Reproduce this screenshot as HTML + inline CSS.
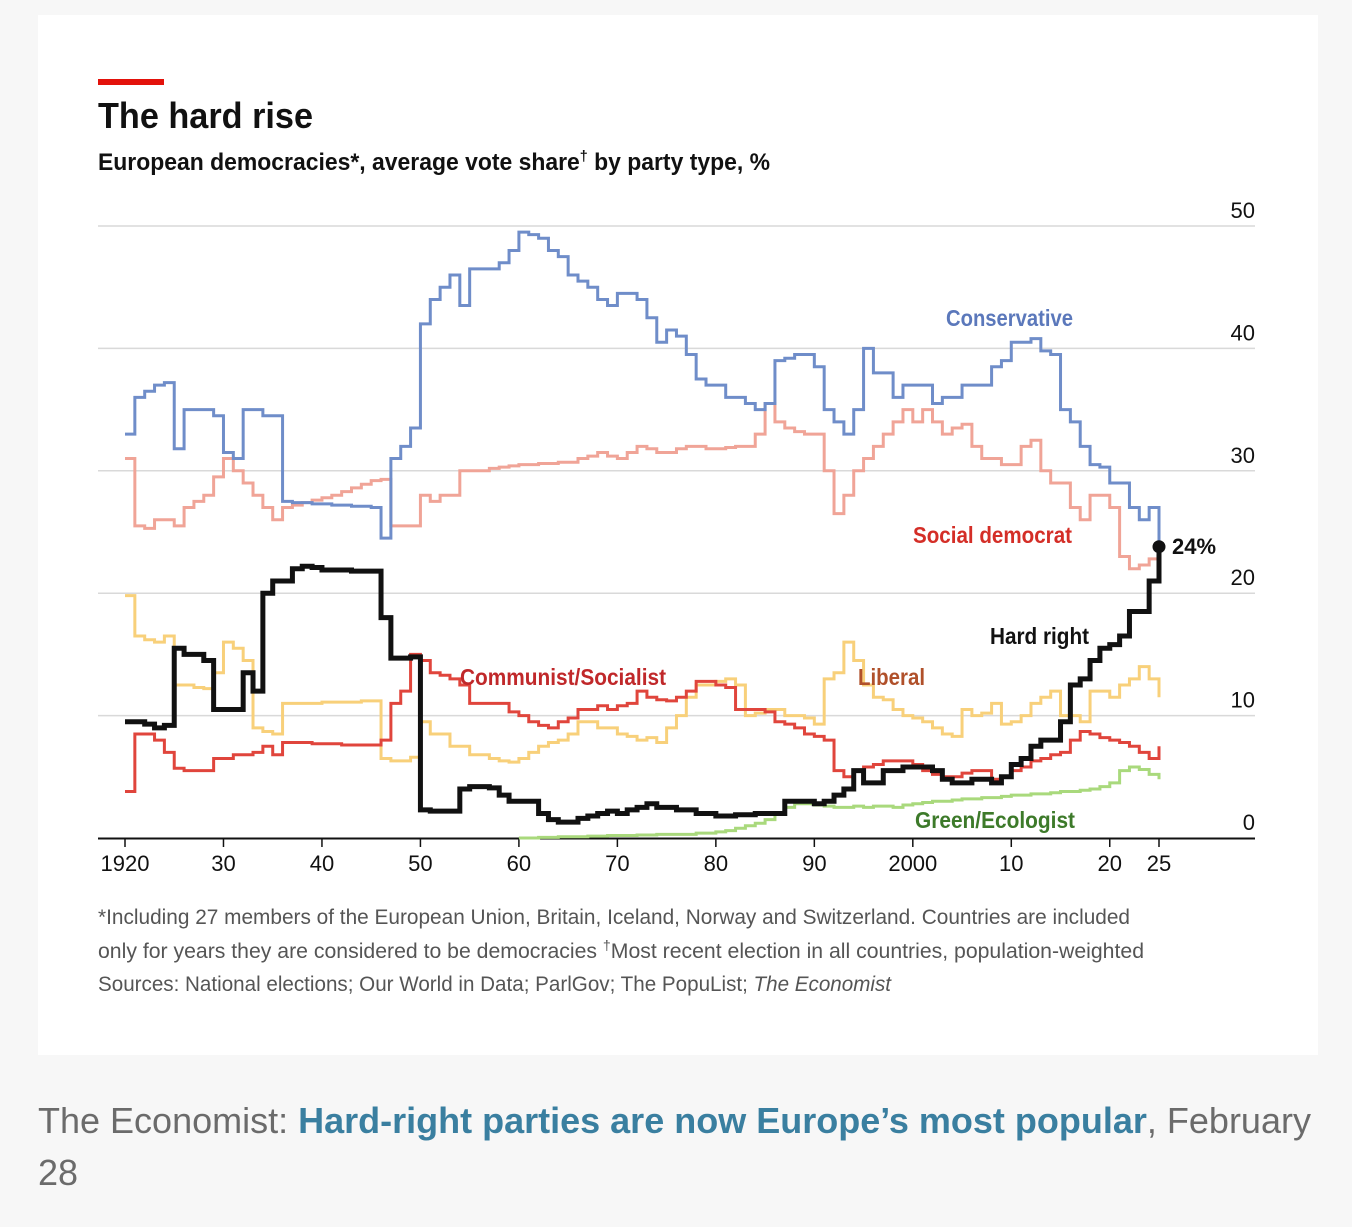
<!DOCTYPE html>
<html><head><meta charset="utf-8"><style>
html,body{margin:0;padding:0;background:#f7f7f7;}
body{width:1352px;height:1222px;overflow:hidden;font-family:"Liberation Sans",sans-serif;}
</style></head><body>
<svg id="chart" width="1352" height="1222" xmlns="http://www.w3.org/2000/svg" font-family="Liberation Sans, sans-serif">
<rect x="38" y="15" width="1280" height="1040" fill="#fff"/>
<rect x="98" y="79" width="66" height="6" fill="#e3120b"/>
<text x="98" y="128" font-size="36" font-weight="bold" textLength="215" lengthAdjust="spacingAndGlyphs" fill="#111">The hard rise</text>
<text x="98" y="170" font-size="24" font-weight="bold" textLength="672" lengthAdjust="spacingAndGlyphs" fill="#111">European democracies*, average vote share<tspan font-size="15" dy="-9">†</tspan><tspan dy="9"> by party type, %</tspan></text>
<g id="grid"></g>
<g id="series"></g>
<g id="labels">
<text x="946" y="326" font-size="23" font-weight="bold" fill="#5b78bb" textLength="127" lengthAdjust="spacingAndGlyphs">Conservative</text>
<text x="913" y="543" font-size="23" font-weight="bold" fill="#d42e27" textLength="159" lengthAdjust="spacingAndGlyphs">Social democrat</text>
<text x="460" y="685" font-size="23" font-weight="bold" fill="#c0282a" textLength="206" lengthAdjust="spacingAndGlyphs">Communist/Socialist</text>
<text x="858" y="685" font-size="23" font-weight="bold" fill="#b0502a" textLength="67" lengthAdjust="spacingAndGlyphs">Liberal</text>
<text x="990" y="644" font-size="23" font-weight="bold" fill="#111" textLength="99" lengthAdjust="spacingAndGlyphs">Hard right</text>
<text x="915" y="828" font-size="23" font-weight="bold" fill="#3d7a2a" textLength="160" lengthAdjust="spacingAndGlyphs">Green/Ecologist</text>
<text x="1172" y="554" font-size="22" font-weight="bold" fill="#111" textLength="44" lengthAdjust="spacingAndGlyphs">24%</text>
</g>
<g font-size="21" fill="#555">
<text x="98" y="924" textLength="1032" lengthAdjust="spacingAndGlyphs">*Including 27 members of the European Union, Britain, Iceland, Norway and Switzerland. Countries are included</text>
<text x="98" y="958" textLength="1046" lengthAdjust="spacingAndGlyphs">only for years they are considered to be democracies    <tspan font-size="14" dy="-8">†</tspan><tspan dy="8">Most recent election in all countries, population-weighted</tspan></text>
<text x="98" y="991" textLength="793" lengthAdjust="spacingAndGlyphs">Sources: National elections; Our World in Data; ParlGov; The PopuList; <tspan font-style="italic">The Economist</tspan></text>
</g>
<text x="38" y="1133" font-size="36" fill="#6b6b6b">The Economist: <tspan font-weight="bold" fill="#3a7fa0">Hard-right parties are now Europe’s most popular</tspan>, February</text>
<text x="38" y="1185" font-size="36" fill="#6b6b6b">28</text>
</svg>
<script>
const years = []; for (let y = 1920; y <= 2025; y++) years.push(y);
const conservative = [33,36,36.5,37,37.2,31.8,35,35,35,34.5,31.5,31,35,35,34.5,34.5,27.5,27.4,27.4,27.3,27.3,27.2,27.2,27.1,27.1,27,24.5,31,32,33.5,42,44,45,46,43.5,46.5,46.5,46.5,47,48,49.5,49.3,49,48,47.5,46,45.5,45,44,43.5,44.5,44.5,44,42.5,40.5,41.5,41,39.5,37.5,37,37,36,36,35.5,35,35.5,39,39.2,39.5,39.5,38.5,35,34,33,35,40,38,38,36,37,37,37,35.5,36,36,37,37,37,38.5,39,40.5,40.5,40.8,39.8,39.5,35,34,32,30.5,30.3,29,29,27,26,27,24];
const socialDemocrat = [31,25.5,25.3,26,26,25.5,27,27.5,28,29.5,31,30,29,28,27,26,27,27.2,27.4,27.6,27.8,28,28.3,28.6,28.9,29.2,29.3,25.5,25.5,25.5,28,27.5,28,28,30,30,30,30.2,30.3,30.4,30.5,30.5,30.6,30.6,30.7,30.7,31,31.2,31.5,31.2,31,31.5,32,31.8,31.5,31.5,31.8,32,32,31.8,31.8,31.9,32,32,33,35.5,34,33.5,33.2,33,33,30,26.5,28,30,31,32,33,34,35,34,35,34,33,33.5,33.8,32,31,31,30.5,30.5,32,32.5,30,29,29,27,26,28,28,27,23,22,22.3,22.8,23.5];
const hardRight = [9.5,9.5,9.3,9,9.2,15.5,15,15,14.5,10.5,10.5,10.5,13.5,12,20,21,21,22,22.2,22.1,21.9,21.9,21.9,21.8,21.8,21.8,18,14.7,14.7,14.8,2.3,2.2,2.2,2.2,4,4.2,4.2,4.1,3.5,3,3,3,2,1.5,1.3,1.3,1.6,1.8,2,2.2,2,2.3,2.5,2.8,2.5,2.5,2.3,2.3,2,2,1.8,1.8,1.9,1.9,2,2,2,3,3,3,2.8,3,3.5,4,5.5,4.5,4.5,5.5,5.5,5.8,5.8,5.8,5.5,4.8,4.5,4.5,4.8,4.8,4.5,5,6,6.5,7.5,8,8,9.5,12.5,13,14.5,15.5,15.8,16.5,18.5,18.5,21,23.8];
const communistSocialist = [3.8,8.5,8.5,8,7,5.7,5.5,5.5,5.5,6.5,6.5,6.8,6.8,7,7.5,6.8,7.8,7.8,7.8,7.7,7.7,7.7,7.6,7.6,7.6,7.6,8,11,12,15,14.5,13.5,13.3,13,12.5,11,11,11,11,10.3,10,9.5,9.2,9,9.5,9.8,10.5,10.5,10.8,10.5,10.8,11,12,11.5,11.3,11.2,11.5,12,12.8,12.8,12.5,12.3,10.5,10.5,10.5,10.3,9.5,9.3,9,8.5,8.3,8,5.5,5,5.5,5.8,6,6.3,6.3,6.3,6,5.5,5.2,5,5,5.3,5.5,5.5,4.8,5,5.5,5.8,6.3,6.5,6.8,7,8,8.7,8.5,8.2,8,7.8,7.5,7,6.5,7.5];
const liberal = [19.8,16.5,16.2,16,16.5,12.5,12.5,12.3,12.2,13.5,16,15.5,14.5,9,8.7,8.5,11,11,11,11,11.1,11.1,11.1,11.1,11.2,11.2,6.5,6.3,6.3,6.6,9.5,8.5,8.5,7.5,7.5,6.8,6.8,6.5,6.3,6.2,6.5,7,7.5,7.8,8,8.5,9.5,9.5,9,9,8.5,8.3,8,8.2,7.8,9,10,11.5,12.5,12.5,12.8,13,12.5,10,10.2,10.5,10.5,10,10,9.8,9.3,13,13.5,16,14.5,12.5,11.5,11.3,10.5,10,9.8,9.5,9,8.5,8.3,10.5,10,10.2,11,9.3,9.5,10,11,11.5,12,10,10,9.5,12,12,11.5,12.5,13,14,13,11.5];
const green = [null,null,null,null,null,null,null,null,null,null,null,null,null,null,null,null,null,null,null,null,null,null,null,null,null,null,null,null,null,null,null,null,null,null,null,null,null,null,null,null,0,0,0.05,0.05,0.1,0.1,0.1,0.15,0.15,0.2,0.2,0.2,0.25,0.25,0.3,0.3,0.3,0.3,0.4,0.4,0.5,0.6,0.8,1,1.2,1.5,2,2.5,2.8,2.8,2.7,2.6,2.5,2.5,2.6,2.5,2.6,2.6,2.5,2.7,2.8,2.9,3,3,3.1,3.2,3.2,3.3,3.3,3.4,3.5,3.5,3.6,3.6,3.7,3.8,3.8,3.9,4,4.2,4.5,5.5,5.8,5.6,5.2,4.8];
const yTicks = [0,10,20,30,40,50];
const xTickYears = [1920,1930,1940,1950,1960,1970,1980,1990,2000,2010,2020,2025];
const xTickLabels = ["1920","30","40","50","60","70","80","90","2000","10","20","25"];

const NS = "http://www.w3.org/2000/svg";
const xScale = y => 125 + (y - 1920) * (1159 - 125) / 105;
const yScale = v => 838 - v * (838 - 226) / 50;
const grid = document.getElementById('grid');
const seriesG = document.getElementById('series');
function mk(tag, attrs, parent) { const e = document.createElementNS(NS, tag); for (const k in attrs) e.setAttribute(k, attrs[k]); parent.appendChild(e); return e; }

yTicks.forEach(t => {
  if (t > 0) {
    const l = mk('line', {x1: 98, x2: 1255, y1: yScale(t), y2: yScale(t), stroke: '#d9d9d9', 'stroke-width': 1.5}, grid);
    
    
  }
  const tx = mk('text', {x: 1255, y: yScale(t) - 8, 'text-anchor': 'end', 'font-size': 22, fill: '#111'}, grid);
  tx.textContent = t;
  
  
});
const ax = mk('line', {x1: 98, x2: 1255, y1: 838.5, y2: 838.5, stroke: '#111', 'stroke-width': 2}, grid);


xTickYears.forEach((yr, i) => {
  const tk = mk('line', {x1: xScale(yr), x2: xScale(yr), y1: 838, y2: 847, stroke: '#111', 'stroke-width': 1.5}, grid);
  
  
  const tx = mk('text', {x: xScale(yr), y: 871, 'text-anchor': 'middle', 'font-size': 22, fill: '#111'}, grid);
  tx.textContent = xTickLabels[i];
  
  
});

function stepPath(vals) {
  let d = '', started = false;
  vals.forEach((v, i) => {
    if (v === null) return;
    const x = xScale(years[i]), y = yScale(v);
    if (!started) { d += 'M' + x + ' ' + y; started = true; }
    else d += 'H' + x + 'V' + y;
  });
  return d;
}
const defs = [
  [green, '#a9d97c', 3, 'series-green-ecologist'],
  [liberal, '#f8d07a', 3, 'series-liberal'],
  [communistSocialist, '#e0453c', 3, 'series-communist-socialist'],
  [socialDemocrat, '#f0a497', 3, 'series-social-democrat'],
  [conservative, '#6f8dc9', 3, 'series-conservative'],
  [hardRight, '#111', 5, 'series-hard-right']
];
defs.forEach(s => {
  const p = mk('path', {d: stepPath(s[0]), fill: 'none', stroke: s[1], 'stroke-width': s[2], 'stroke-linejoin': 'miter'}, seriesG);
  
  
});
const last = hardRight[hardRight.length - 1];
const dot = mk('circle', {cx: xScale(2025), cy: yScale(last), r: 6.5, fill: '#111'}, seriesG);


</script>
</body></html>
